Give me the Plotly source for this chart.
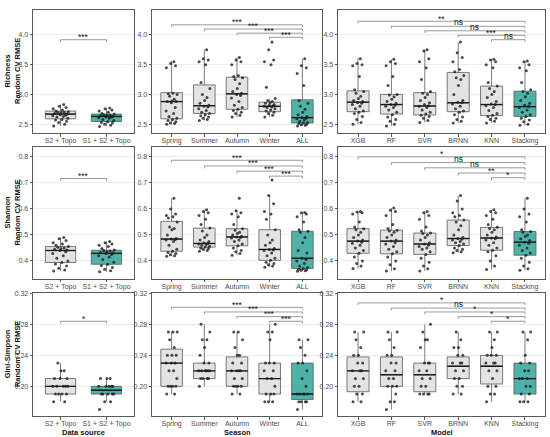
import plotly.graph_objects as go

# ---------------- data ----------------
SOURCES = ["S2 + Topo", "S1 + S2 + Topo"]
SEASONS = ["Spring", "Summer", "Autumn", "Winter", "ALL"]
MODELS = ["XGB", "RF", "SVR", "BRNN", "KNN", "Stacking"]
ROW_TITLES = ["Richness", "Shannon", "Gini-Simpson"]
COL_TITLES = ["Data source", "Season", "Model"]

# box stats per category: q1, median, q3, lower whisker, upper whisker
RICH_SRC_BOX = [[2.59, 2.67, 2.72, 2.47, 2.83], [2.545, 2.63, 2.67, 2.46, 2.77]]
RICH_SEA_BOX = [[2.59, 2.88, 3.03, 2.50, 3.56], [2.68, 2.81, 3.16, 2.56, 3.755],
                [2.75, 3.01, 3.29, 2.62, 3.62], [2.71, 2.80, 2.87, 2.62, 2.93],
                [2.52, 2.61, 2.91, 2.47, 3.60]]
RICH_MOD_BOX = [[2.71, 2.87, 3.06, 2.50, 3.62], [2.67, 2.83, 3.00, 2.47, 3.59],
                [2.655, 2.805, 3.03, 2.53, 3.755], [2.71, 2.86, 3.37, 2.52, 3.88],
                [2.645, 2.83, 3.14, 2.52, 3.59], [2.63, 2.795, 3.055, 2.48, 3.56]]

SHAN_SRC_BOX = [[0.394, 0.44, 0.455, 0.361, 0.49], [0.387, 0.429, 0.441, 0.358, 0.475]]
SHAN_SEA_BOX = [[0.437, 0.484, 0.552, 0.418, 0.641], [0.453, 0.467, 0.526, 0.437, 0.597],
                [0.458, 0.492, 0.524, 0.422, 0.593], [0.402, 0.444, 0.52, 0.376, 0.651],
                [0.371, 0.41, 0.514, 0.36, 0.586]]
SHAN_MOD_BOX = [[0.429, 0.476, 0.524, 0.371, 0.59], [0.427, 0.476, 0.518, 0.361, 0.603],
                [0.425, 0.465, 0.507, 0.361, 0.59], [0.459, 0.486, 0.557, 0.431, 0.651],
                [0.441, 0.488, 0.529, 0.367, 0.597], [0.422, 0.472, 0.513, 0.364, 0.641]]

GINI_SRC_BOX = [[0.19, 0.20, 0.21, 0.18, 0.23], [0.19, 0.195, 0.20, 0.18, 0.21]]
GINI_SEA_BOX = [[0.20, 0.23, 0.248, 0.19, 0.27], [0.21, 0.22, 0.23, 0.20, 0.28],
                [0.20, 0.22, 0.238, 0.19, 0.27], [0.19, 0.21, 0.23, 0.18, 0.28],
                [0.183, 0.19, 0.23, 0.17, 0.26]]
GINI_MOD_BOX = [[0.193, 0.22, 0.238, 0.18, 0.27], [0.20, 0.215, 0.238, 0.17, 0.27],
                [0.193, 0.215, 0.23, 0.19, 0.28], [0.21, 0.226, 0.238, 0.19, 0.27],
                [0.203, 0.226, 0.24, 0.18, 0.27], [0.19, 0.21, 0.23, 0.18, 0.27]]

# individual points per category
RICH_SRC_PTS = [
    [2.47, 2.50, 2.53, 2.55, 2.57, 2.58, 2.60, 2.62, 2.63, 2.64, 2.65, 2.66, 2.67, 2.68, 2.69, 2.70, 2.70, 2.71, 2.72, 2.74, 2.76, 2.78, 2.80, 2.83],
    [2.46, 2.48, 2.50, 2.52, 2.53, 2.54, 2.56, 2.58, 2.60, 2.61, 2.62, 2.62, 2.63, 2.64, 2.65, 2.65, 2.66, 2.67, 2.68, 2.70, 2.72, 2.74, 2.76, 2.77]]
RICH_SEA_PTS = [
    [2.50, 2.51, 2.52, 2.54, 2.56, 2.58, 2.60, 2.63, 2.68, 2.72, 2.78, 2.86, 2.88, 2.88, 2.89, 2.92, 2.97, 3.00, 3.01, 3.02, 3.45, 3.48, 3.52, 3.55],
    [2.56, 2.58, 2.60, 2.62, 2.64, 2.66, 2.68, 2.70, 2.73, 2.76, 2.79, 2.80, 2.82, 2.85, 2.90, 2.95, 3.00, 3.10, 3.20, 3.50, 3.55, 3.58, 3.60, 3.75],
    [2.62, 2.65, 2.68, 2.70, 2.73, 2.75, 2.78, 2.82, 2.88, 2.94, 2.98, 3.00, 3.02, 3.05, 3.10, 3.18, 3.25, 3.28, 3.30, 3.32, 3.50, 3.55, 3.58, 3.62],
    [2.62, 2.65, 2.68, 2.70, 2.72, 2.74, 2.76, 2.78, 2.79, 2.80, 2.81, 2.82, 2.83, 2.85, 2.86, 2.88, 2.90, 2.93, 3.12, 3.50, 3.55, 3.58, 3.75, 3.88],
    [2.47, 2.48, 2.49, 2.50, 2.51, 2.52, 2.53, 2.55, 2.57, 2.59, 2.60, 2.61, 2.63, 2.66, 2.70, 2.75, 2.80, 2.85, 2.90, 3.15, 3.35, 3.45, 3.48, 3.60]]
RICH_MOD_PTS = [
    [2.50, 2.53, 2.58, 2.63, 2.68, 2.70, 2.72, 2.76, 2.80, 2.83, 2.85, 2.86, 2.88, 2.90, 2.93, 2.97, 3.02, 3.05, 3.08, 3.30, 3.48, 3.50, 3.52, 3.60],
    [2.47, 2.50, 2.55, 2.58, 2.62, 2.66, 2.70, 2.74, 2.78, 2.80, 2.82, 2.83, 2.85, 2.88, 2.92, 2.96, 2.99, 3.00, 3.15, 3.30, 3.48, 3.52, 3.55, 3.59],
    [2.53, 2.56, 2.60, 2.63, 2.65, 2.67, 2.70, 2.74, 2.78, 2.80, 2.81, 2.83, 2.86, 2.90, 2.95, 3.00, 3.02, 3.05, 3.25, 3.45, 3.55, 3.60, 3.73, 3.75],
    [2.52, 2.55, 2.58, 2.62, 2.66, 2.70, 2.72, 2.76, 2.80, 2.84, 2.86, 2.87, 2.90, 3.00, 3.15, 3.25, 3.28, 3.32, 3.38, 3.42, 3.55, 3.62, 3.70, 3.88],
    [2.52, 2.55, 2.58, 2.60, 2.63, 2.65, 2.68, 2.73, 2.78, 2.81, 2.83, 2.84, 2.88, 2.95, 3.00, 3.05, 3.10, 3.14, 3.20, 3.45, 3.50, 3.55, 3.58, 3.59],
    [2.48, 2.50, 2.54, 2.57, 2.60, 2.63, 2.66, 2.70, 2.74, 2.78, 2.80, 2.82, 2.85, 2.90, 2.96, 3.02, 3.05, 3.08, 3.20, 3.40, 3.45, 3.50, 3.55, 3.56]]

SHAN_SRC_PTS = [
    [0.361, 0.365, 0.372, 0.38, 0.388, 0.394, 0.40, 0.41, 0.42, 0.428, 0.435, 0.44, 0.442, 0.445, 0.448, 0.45, 0.452, 0.455, 0.46, 0.465, 0.47, 0.478, 0.485, 0.49],
    [0.358, 0.362, 0.368, 0.375, 0.382, 0.387, 0.395, 0.405, 0.415, 0.42, 0.425, 0.428, 0.43, 0.432, 0.435, 0.438, 0.44, 0.442, 0.448, 0.455, 0.46, 0.465, 0.47, 0.475]]
SHAN_SEA_PTS = [
    [0.418, 0.42, 0.424, 0.428, 0.432, 0.437, 0.445, 0.46, 0.475, 0.48, 0.482, 0.484, 0.486, 0.50, 0.52, 0.525, 0.53, 0.55, 0.565, 0.57, 0.575, 0.58, 0.60, 0.641],
    [0.437, 0.44, 0.445, 0.448, 0.45, 0.453, 0.456, 0.46, 0.463, 0.465, 0.467, 0.47, 0.475, 0.48, 0.49, 0.50, 0.515, 0.526, 0.54, 0.56, 0.575, 0.585, 0.59, 0.597],
    [0.422, 0.428, 0.435, 0.44, 0.45, 0.458, 0.465, 0.475, 0.48, 0.488, 0.49, 0.492, 0.495, 0.50, 0.505, 0.51, 0.518, 0.524, 0.54, 0.57, 0.58, 0.585, 0.593, 0.641],
    [0.376, 0.38, 0.385, 0.39, 0.395, 0.402, 0.41, 0.42, 0.43, 0.44, 0.442, 0.444, 0.448, 0.46, 0.47, 0.48, 0.50, 0.52, 0.56, 0.58, 0.59, 0.62, 0.651, 0.711],
    [0.36, 0.362, 0.364, 0.366, 0.368, 0.371, 0.375, 0.38, 0.39, 0.40, 0.405, 0.41, 0.43, 0.44, 0.47, 0.49, 0.51, 0.514, 0.52, 0.55, 0.57, 0.58, 0.585, 0.586]]
SHAN_MOD_PTS = [
    [0.371, 0.38, 0.39, 0.40, 0.415, 0.429, 0.44, 0.45, 0.46, 0.468, 0.472, 0.476, 0.48, 0.49, 0.50, 0.51, 0.52, 0.524, 0.53, 0.55, 0.58, 0.585, 0.588, 0.59],
    [0.361, 0.37, 0.385, 0.40, 0.415, 0.427, 0.435, 0.445, 0.455, 0.465, 0.47, 0.476, 0.48, 0.49, 0.50, 0.51, 0.515, 0.518, 0.525, 0.54, 0.575, 0.59, 0.595, 0.603],
    [0.361, 0.37, 0.38, 0.395, 0.41, 0.425, 0.435, 0.445, 0.45, 0.455, 0.46, 0.465, 0.47, 0.48, 0.49, 0.50, 0.505, 0.507, 0.515, 0.53, 0.56, 0.575, 0.585, 0.59],
    [0.431, 0.435, 0.44, 0.445, 0.45, 0.459, 0.465, 0.47, 0.475, 0.48, 0.483, 0.486, 0.49, 0.50, 0.52, 0.535, 0.55, 0.557, 0.57, 0.575, 0.585, 0.60, 0.63, 0.651],
    [0.367, 0.38, 0.40, 0.42, 0.435, 0.441, 0.45, 0.46, 0.47, 0.48, 0.485, 0.488, 0.492, 0.50, 0.51, 0.52, 0.525, 0.529, 0.54, 0.56, 0.575, 0.585, 0.59, 0.597],
    [0.364, 0.37, 0.38, 0.395, 0.41, 0.422, 0.43, 0.44, 0.45, 0.46, 0.468, 0.472, 0.478, 0.485, 0.495, 0.50, 0.51, 0.513, 0.52, 0.55, 0.57, 0.58, 0.60, 0.641]]

GINI_SRC_PTS = [
    [0.18, 0.18, 0.19, 0.19, 0.19, 0.19, 0.20, 0.20, 0.20, 0.20, 0.20, 0.21, 0.21, 0.21, 0.22, 0.22, 0.23],
    [0.17, 0.18, 0.18, 0.19, 0.19, 0.19, 0.19, 0.19, 0.20, 0.20, 0.20, 0.20, 0.20, 0.21, 0.21, 0.21]]
GINI_SEA_PTS = [
    [0.19, 0.19, 0.20, 0.20, 0.20, 0.20, 0.21, 0.22, 0.22, 0.23, 0.23, 0.23, 0.24, 0.24, 0.24, 0.25, 0.26, 0.27, 0.27, 0.27],
    [0.20, 0.21, 0.21, 0.21, 0.21, 0.22, 0.22, 0.22, 0.22, 0.22, 0.22, 0.23, 0.23, 0.24, 0.25, 0.26, 0.26, 0.27, 0.28],
    [0.19, 0.19, 0.20, 0.20, 0.20, 0.20, 0.21, 0.21, 0.22, 0.22, 0.22, 0.22, 0.23, 0.23, 0.24, 0.24, 0.25, 0.26, 0.27, 0.27],
    [0.18, 0.18, 0.18, 0.19, 0.19, 0.19, 0.20, 0.21, 0.21, 0.22, 0.22, 0.23, 0.23, 0.23, 0.26, 0.27, 0.27, 0.28],
    [0.17, 0.18, 0.18, 0.18, 0.18, 0.19, 0.19, 0.19, 0.19, 0.19, 0.20, 0.21, 0.22, 0.23, 0.23, 0.24, 0.25, 0.26, 0.26]]
GINI_MOD_PTS = [
    [0.18, 0.18, 0.19, 0.19, 0.20, 0.20, 0.21, 0.21, 0.22, 0.22, 0.22, 0.23, 0.23, 0.24, 0.24, 0.25, 0.26, 0.27, 0.27],
    [0.17, 0.18, 0.18, 0.19, 0.20, 0.20, 0.20, 0.21, 0.21, 0.22, 0.22, 0.23, 0.23, 0.24, 0.24, 0.25, 0.26, 0.27, 0.27],
    [0.19, 0.19, 0.19, 0.19, 0.20, 0.20, 0.21, 0.21, 0.22, 0.22, 0.23, 0.23, 0.23, 0.25, 0.26, 0.26, 0.27, 0.28],
    [0.19, 0.19, 0.20, 0.20, 0.21, 0.21, 0.22, 0.22, 0.23, 0.23, 0.23, 0.24, 0.24, 0.25, 0.25, 0.26, 0.27],
    [0.18, 0.19, 0.19, 0.20, 0.20, 0.21, 0.22, 0.22, 0.23, 0.23, 0.23, 0.24, 0.24, 0.24, 0.25, 0.26, 0.27, 0.27],
    [0.18, 0.18, 0.18, 0.19, 0.19, 0.20, 0.20, 0.21, 0.21, 0.21, 0.22, 0.22, 0.23, 0.23, 0.24, 0.26, 0.27, 0.27]]

# significance brackets: each compares category i with the last category
RICH_SRC_SIG = ["***"]
RICH_SRC_SIG_Y = [3.92]
RICH_SEA_SIG = ["***", "***", "***", "***"]
RICH_SEA_SIG_Y = [4.17, 4.10, 4.03, 3.96]
RICH_MOD_SIG = ["**", "ns", "ns", "***", "ns"]
RICH_MOD_SIG_Y = [4.23, 4.145, 4.07, 3.995, 3.92]

SHAN_SRC_SIG = ["***"]
SHAN_SRC_SIG_Y = [0.717]
SHAN_SEA_SIG = ["***", "***", "***", "***"]
SHAN_SEA_SIG_Y = [0.787, 0.765, 0.745, 0.726]
SHAN_MOD_SIG = ["*", "ns", "ns", "**", "*"]
SHAN_MOD_SIG_Y = [0.80, 0.778, 0.758, 0.738, 0.72]

GINI_SRC_SIG = ["*"]
GINI_SRC_SIG_Y = [0.284]
GINI_SEA_SIG = ["***", "***", "***", "***"]
GINI_SEA_SIG_Y = [0.302, 0.296, 0.290, 0.284]
GINI_MOD_SIG = ["*", "ns", "*", "*", "*"]
GINI_MOD_SIG_Y = [0.3077, 0.301, 0.296, 0.290, 0.284]

Y_RANGES = [[2.35, 4.42], [0.33, 0.838], [0.1615, 0.3205]]
Y_TICKS = [[2.5, 3.0, 3.5, 4.0], [0.4, 0.5, 0.6, 0.7, 0.8], [0.20, 0.24, 0.28, 0.32]]
Y_FORMATS = [".1f", ".1f", ".2f"]

PANELS = [
    [(SOURCES, RICH_SRC_BOX, RICH_SRC_PTS, RICH_SRC_SIG, RICH_SRC_SIG_Y),
     (SEASONS, RICH_SEA_BOX, RICH_SEA_PTS, RICH_SEA_SIG, RICH_SEA_SIG_Y),
     (MODELS, RICH_MOD_BOX, RICH_MOD_PTS, RICH_MOD_SIG, RICH_MOD_SIG_Y)],
    [(SOURCES, SHAN_SRC_BOX, SHAN_SRC_PTS, SHAN_SRC_SIG, SHAN_SRC_SIG_Y),
     (SEASONS, SHAN_SEA_BOX, SHAN_SEA_PTS, SHAN_SEA_SIG, SHAN_SEA_SIG_Y),
     (MODELS, SHAN_MOD_BOX, SHAN_MOD_PTS, SHAN_MOD_SIG, SHAN_MOD_SIG_Y)],
    [(SOURCES, GINI_SRC_BOX, GINI_SRC_PTS, GINI_SRC_SIG, GINI_SRC_SIG_Y),
     (SEASONS, GINI_SEA_BOX, GINI_SEA_PTS, GINI_SEA_SIG, GINI_SEA_SIG_Y),
     (MODELS, GINI_MOD_BOX, GINI_MOD_PTS, GINI_MOD_SIG, GINI_MOD_SIG_Y)],
]

# ---------------- style / layout ----------------
W, H = 550, 437
COL_PX = [(33, 134), (152, 322), (338, 545)]
ROW_PX = [(7, 131), (145, 278), (292, 416)]
JITTER = [-0.15, 0.09, -0.04, 0.13, -0.11, 0.03, 0.16, -0.08, 0.06, -0.17, 0.11, -0.01,
          0.14, -0.13, 0.01, 0.08, -0.06, 0.17, -0.10, 0.04, -0.16, 0.12, -0.03, 0.07]
BOX_W = 0.66
GRAY_FILL = "#e3e3e3"
TEAL_FILL = "#4db3a8"
EDGE = "#5a5a5a"
FONT = "Liberation Sans, Arial, sans-serif"
TIP_FRAC = 0.018

fig = go.Figure()
layout = dict(width=W, height=H, margin=dict(l=0, r=0, t=0, b=0),
              paper_bgcolor="white", plot_bgcolor="white", showlegend=False,
              font=dict(family=FONT, size=7, color="#4d4d4d"))
annotations = []

for r in range(3):
    for c in range(3):
        k = r * 3 + c + 1
        xa = "x" if k == 1 else f"x{k}"
        ya = "y" if k == 1 else f"y{k}"
        cats, boxes, pts, sigs, sig_y = PANELS[r][c]
        n = len(cats)
        for i in range(n):
            q1, med, q3, lo, hi = boxes[i]
            fill = TEAL_FILL if i == n - 1 else GRAY_FILL
            fig.add_trace(go.Box(
                x=[i], q1=[q1], median=[med], q3=[q3], lowerfence=[lo], upperfence=[hi],
                width=BOX_W, fillcolor=fill, line=dict(color=EDGE, width=0.8),
                whiskerwidth=0, boxpoints=False, xaxis=xa, yaxis=ya, hoverinfo="skip"))
            fig.add_trace(go.Scatter(
                x=[i - BOX_W / 2, i + BOX_W / 2], y=[med, med], mode="lines",
                line=dict(color="#1a1a1a", width=1.4), xaxis=xa, yaxis=ya, hoverinfo="skip"))
            vals = pts[i]
            xs = [i + JITTER[j % len(JITTER)] for j in range(len(vals))]
            fig.add_trace(go.Scatter(
                x=xs, y=vals, mode="markers",
                marker=dict(size=3, color="rgba(25,25,25,0.78)", line=dict(width=0)),
                xaxis=xa, yaxis=ya, hoverinfo="skip"))
        # brackets
        yr = Y_RANGES[r]
        tip = (yr[1] - yr[0]) * TIP_FRAC
        for j, (lab, yv) in enumerate(zip(sigs, sig_y)):
            fig.add_trace(go.Scatter(
                x=[j, j, n - 1, n - 1], y=[yv - tip, yv, yv, yv - tip], mode="lines",
                line=dict(color="#555555", width=0.6), xaxis=xa, yaxis=ya, hoverinfo="skip"))
            annotations.append(dict(
                x=(j + n - 1) / 2, y=yv, xref=xa, yref=ya, text=lab, showarrow=False,
                yanchor="bottom", yshift=-3 if lab == "ns" else -4.5,
                font=dict(family=FONT, size=8.5, color="#111111")))
        x0, x1 = COL_PX[c]
        y0, y1 = ROW_PX[r]
        axis_common = dict(showline=True, mirror=True, linecolor=EDGE, linewidth=0.8,
                           ticks="outside", ticklen=2.5, tickwidth=0.6, tickcolor=EDGE,
                           zeroline=False, tickfont=dict(family=FONT, size=7, color="#4d4d4d"))
        layout["xaxis" if k == 1 else f"xaxis{k}"] = dict(
            domain=[x0 / W, x1 / W], anchor=ya, range=[-0.6, n - 0.4],
            tickmode="array", tickvals=list(range(n)), ticktext=cats,
            ticklabelstandoff=-2, showgrid=False, **axis_common)
        layout["yaxis" if k == 1 else f"yaxis{k}"] = dict(
            domain=[1 - y1 / H, 1 - y0 / H], anchor=xa, range=yr,
            tickmode="array", tickvals=Y_TICKS[r], tickformat=Y_FORMATS[r],
            showgrid=True, gridcolor="#ececec", gridwidth=0.6, **axis_common)

# row titles
for r in range(3):
    y0, y1 = ROW_PX[r]
    annotations.append(dict(
        x=12.5 / W, y=1 - (y0 + y1) / 2 / H, xref="paper", yref="paper",
        text=f"<b>{ROW_TITLES[r]}<br>Random CV RMSE</b>", showarrow=False, textangle=-90,
        xanchor="center", yanchor="middle", font=dict(family=FONT, size=7.5, color="#111111")))
# column titles
for c in range(3):
    x0, x1 = COL_PX[c]
    annotations.append(dict(
        x=(x0 + x1) / 2 / W, y=1 - 432 / H, xref="paper", yref="paper",
        text=f"<b>{COL_TITLES[c]}</b>", showarrow=False, xanchor="center", yanchor="middle",
        font=dict(family=FONT, size=7.5, color="#111111")))

layout["annotations"] = annotations
fig.update_layout(**layout)
fig.write_html("out.html", config={"displayModeBar": False},
               post_script="document.body.style.margin='0';document.body.style.padding='0';")
